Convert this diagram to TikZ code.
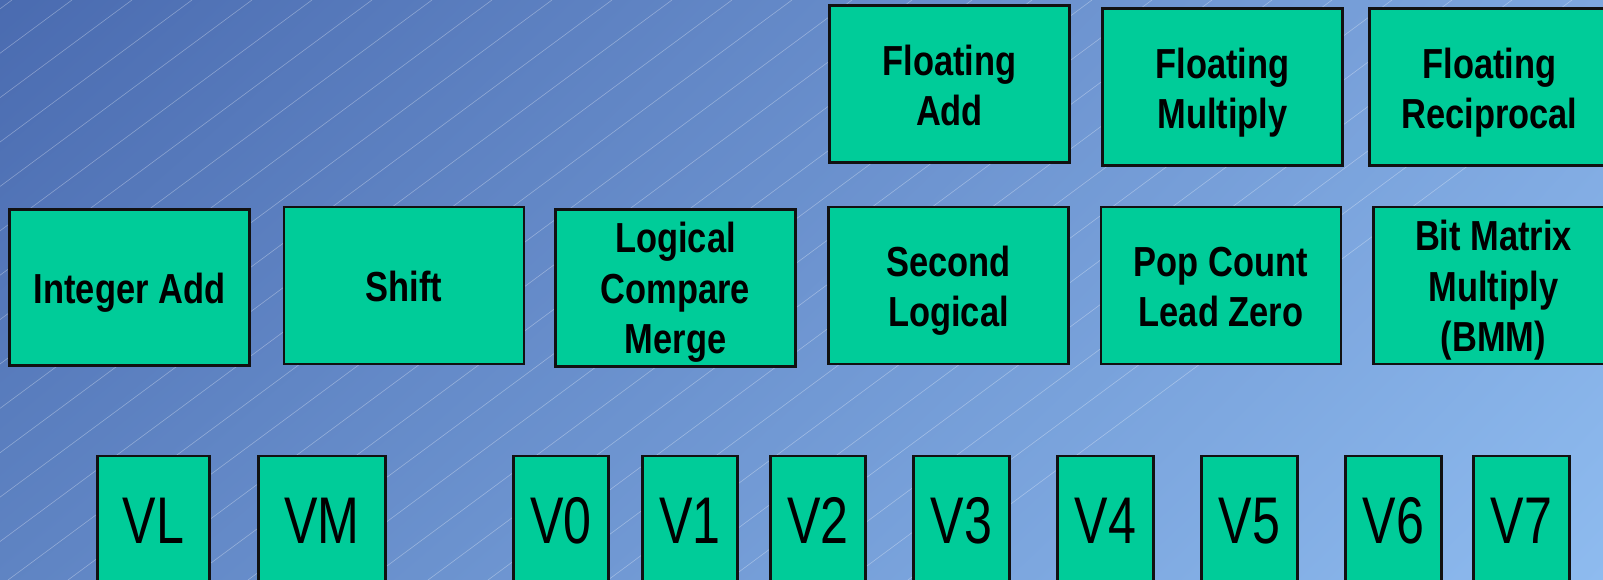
\documentclass[tikz,border=0pt]{standalone}
\usepackage{fontspec}
\usetikzlibrary{shadings}
\setmainfont{Liberation Sans}
\newfontfamily\nboldfont[FakeStretch=0.82]{Liberation Sans}
\newfontfamily\nregfont[FakeStretch=0.76]{Liberation Sans}
\definecolor{boxgreen}{HTML}{00CC99}
\definecolor{bgUL}{HTML}{4A6BB0}
\definecolor{bgUR}{HTML}{7EA7DF}
\definecolor{bgLL}{HTML}{5F84C3}
\definecolor{bgLR}{HTML}{8EBBEF}
\definecolor{edge}{HTML}{111111}
\tikzset{
  fu/.style={draw=edge, line width=2.2pt, fill=boxgreen, inner sep=0pt,
             minimum width=240pt, minimum height=157pt},
  ft/.style={font=\nboldfont\bfseries\fontsize{42}{50.5}\selectfont,
             align=center, inner sep=0pt, anchor=base, text=black},
  vreg/.style={draw=edge, line width=2.2pt, fill=boxgreen, inner sep=0pt,
             anchor=north, minimum height=200pt},
  vt/.style={font=\nregfont\fontsize{66}{70}\selectfont, inner sep=0pt,
             anchor=base, text=black},
  bgline/.style={white, opacity=0.32, line width=0.6pt}
}
\begin{document}
\begin{tikzpicture}[x=1pt,y=-1pt]
\useasboundingbox (0,0) rectangle (1603,580);
\shade[upper left=bgUL, upper right=bgUR, lower left=bgLL, lower right=bgLR]
  (0,0) rectangle (1603,580);
\begin{scope}
  \clip (0,0) rectangle (1603,580);
  \foreach \k in {-13,...,27}
    \draw[bgline] ({72+60*\k},0) -- ({72+60*\k-784},580);

  % row 1 (text anchored at the baseline of its last line)
  \node[fu] (fadd) at (949.5,84) {};
  \node[ft] (faddt) at (949.5,126) {Floating\\Add};
  \node[fu] (fmul) at (1222.5,87) {};
  \node[ft] (fmult) at (1222.5,129) {Floating\\Multiply};
  \node[fu] (frec) at (1489.5,87) {};
  \node[ft] (frect) at (1489.5,129) {Floating\\Reciprocal};

  % row 2
  \node[fu, minimum height=156pt] (iadd) at (129.5,287.5) {};
  \node[ft] (iaddt) at (129.5,303.5) {Integer Add};
  \node[fu] (shift) at (404,285.5) {};
  \node[ft] (shiftt) at (404,301.5) {Shift};
  \node[fu] (logic) at (675.5,288) {};
  \node[ft] (logict) at (675.5,353.5) {Logical\\Compare\\Merge};
  \node[fu] (slog) at (948.5,285.5) {};
  \node[ft] (slogt) at (948.5,326.5) {Second\\Logical};
  \node[fu] (pop) at (1221,285.5) {};
  \node[ft] (popt) at (1221,326.5) {Pop Count\\Lead Zero};
  \node[fu] (bmm) at (1493.5,285.5) {};
  \node[ft] (bmmt) at (1493.5,351.5) {Bit Matrix\\Multiply\\(BMM)};

  % row 3: registers
  \foreach \nm/\l/\r in {VL/97/210, VM/258/386, V0/513/609, V1/642/738,
                         V2/770/866, V3/913/1010, V4/1057/1154,
                         V5/1201/1298, V6/1345/1442, V7/1473/1570} {
    \pgfmathsetmacro{\cx}{(\l+\r)/2}
    \pgfmathsetmacro{\bw}{\r-\l-1}
    \node[vreg, minimum width=\bw pt] (reg\nm) at (\cx,455) {};
    \node[vt] (reg\nm t) at (\cx,543) {\nm};
  }
\end{scope}
\end{tikzpicture}
\end{document}
